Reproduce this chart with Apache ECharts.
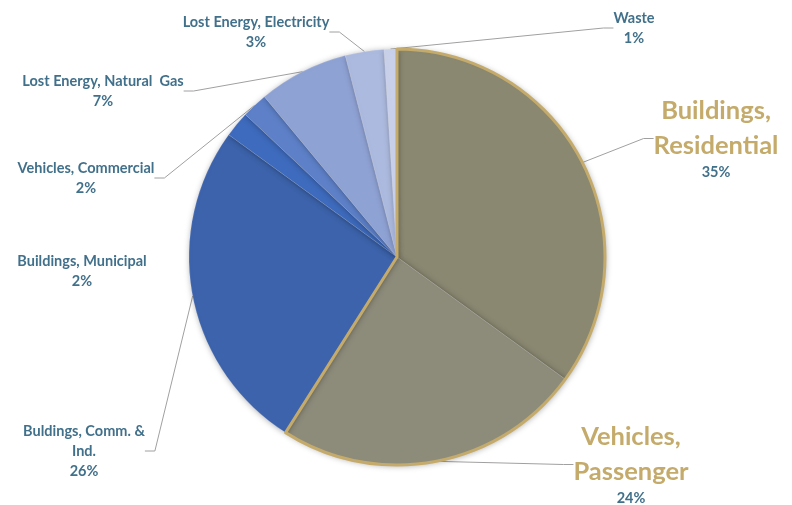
<!DOCTYPE html>
<html>
<head>
<meta charset="utf-8">
<script src="https://cdn.jsdelivr.net/npm/echarts@6/dist/echarts.min.js"></script>
<style>html,body{margin:0;padding:0;background:#fff}#c{width:792px;height:505px}</style>
</head>
<body>
<div id="c"></div>
<script>
const categories = ['Buildings, Residential','Vehicles, Passenger','Buldings, Comm. & Ind.','Buildings, Municipal','Vehicles, Commercial','Lost Energy, Natural  Gas','Lost Energy, Electricity','Waste'];
const labelNames = ['Buildings,\nResidential','Vehicles,\nPassenger','Buldings, Comm. &\nInd.','Buildings, Municipal','Vehicles, Commercial','Lost Energy, Natural  Gas','Lost Energy, Electricity','Waste'];
const values = [35,24,26,2,2,7,3,1];
const highlighted = [0,1];

const colors = ['#8a8871','#8d8c7b','#3c63ab','#3e6bbd','#5d80c8','#8fa2d4','#adbadf','#c8d0ea'];
const labelPos = [[716,137],[631,463],[84,451],[82,271],[86,178],[103,91],[256,32],[634,28]];
const gold = '#c5ab6b';
const teal = '#41708b';

const chart = echarts.init(document.getElementById('c'), null, {renderer:'canvas'});
const hiSum = highlighted.reduce((s,i)=>s+values[i],0);
const total = values.reduce((a,b)=>a+b,0);

chart.setOption({
  animation:false,
  series:[{
    type:'pie',
    center:[397,257],
    radius:208,
    startAngle:90,
    clockwise:true,
    percentPrecision:0,
    avoidLabelOverlap:false,
    itemStyle:{shadowBlur:6,shadowColor:'rgba(0,0,0,0.35)',shadowOffsetX:1,shadowOffsetY:1},
    data: values.map((v,i)=>({
      name:categories[i], value:v,
      itemStyle:{color:colors[i], borderColor:'rgba(255,255,255,0.25)', borderWidth:0.5},
      labelLine:{show: i!==3}
    })),
    label:{
      show:true,
      position:'outside',
      fontFamily:'Lato',
      fontWeight:'bold',
      formatter:function(p){
        const big = highlighted.indexOf(p.dataIndex)>=0;
        return '{' + (big?'big':'nm') + '|' + labelNames[p.dataIndex] + '}\n{' + (big?'pb':'pct') + '|' + p.percent + '%}';
      },
      rich:{
        big:{fontFamily:'Lato',fontWeight:'bold',fontSize:25.5,lineHeight:35,color:gold,align:'center'},
        nm:{fontFamily:'Lato',fontWeight:'bold',fontSize:14.5,lineHeight:20,color:teal,align:'center'},
        pct:{fontFamily:'Lato',fontWeight:'bold',fontSize:14.5,lineHeight:20,color:teal,align:'center'},
        pb:{fontFamily:'Lato',fontWeight:'bold',fontSize:14.5,lineHeight:18,color:teal,align:'center'}
      }
    },
    labelLine:{show:true,length:10,length2:10,smooth:false,lineStyle:{color:'#a0a0a0',width:1}},
    labelLayout:function(p){
      const pos = labelPos[p.dataIndex];
      return {x:pos[0], y:pos[1], align:'center', verticalAlign:'middle'};
    }
  },{
    type:'pie',
    center:[397,257],
    radius:208,
    startAngle:90,
    clockwise:true,
    silent:true,
    z:3,
    label:{show:false},
    labelLine:{show:false},
    data:[
      {value:hiSum, itemStyle:{color:'rgba(0,0,0,0)', borderColor:gold, borderWidth:3}},
      {value:total-hiSum, itemStyle:{color:'rgba(0,0,0,0)', borderWidth:0}}
    ]
  }]
});
</script>
</body>
</html>
